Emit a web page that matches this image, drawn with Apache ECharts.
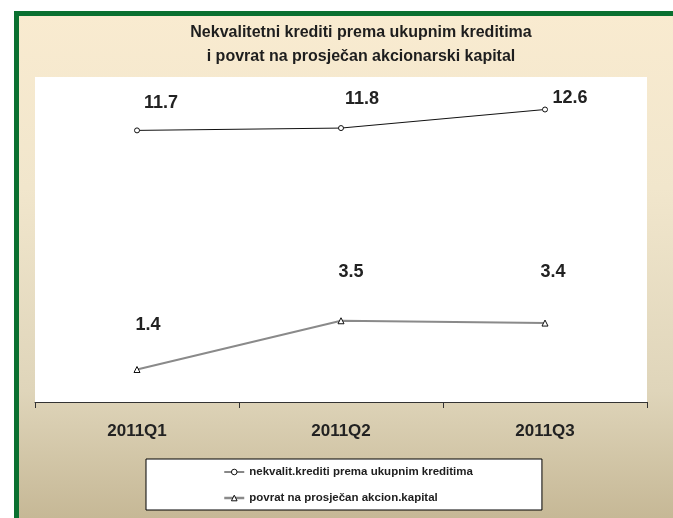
<!DOCTYPE html>
<html>
<head>
<meta charset="utf-8">
<script src="https://cdn.jsdelivr.net/npm/echarts@6/dist/echarts.min.js"></script>
<style>
  html, body { margin: 0; padding: 0; }
  #main { width: 673px; height: 518px; }
</style>
</head>
<body>
<div id="main"></div>
<script>
var categories = ["2011Q1", "2011Q2", "2011Q3"];
var seriesNames = ["nekvalit.krediti prema ukupnim kreditima", "povrat na prosječan akcion.kapital"];
var npl = [11.7, 11.8, 12.6];
var roe = [1.4, 3.5, 3.4];

// label offsets (px) so the numbers sit where the original puts them
var nplLabelOffset = [[24, -27], [21, -29], [25, -11]];
var roeLabelOffset = [[11, -44], [10, -49], [8, -51]];

var font = "'Liberation Sans', Arial, sans-serif";

function withOffsets(values, offsets) {
  return values.map(function (v, i) {
    return { value: v, label: { offset: offsets[i] } };
  });
}

var myChart = echarts.init(document.getElementById("main"));

myChart.setOption({
  animation: false,
  textStyle: { fontFamily: font },
  graphic: [
    {
      type: "rect", z: -10, silent: true,
      shape: { x: 0, y: 11, width: 673, height: 507 },
      style: {
        fill: new echarts.graphic.LinearGradient(0, 0, 0, 1, [
          { offset: 0, color: "#f9ebd0" },
          { offset: 0.35, color: "#f1e6cc" },
          { offset: 0.75, color: "#dfd5ba" },
          { offset: 1, color: "#c6b896" }
        ])
      }
    },
    { type: "rect", z: 10, silent: true, shape: { x: 0, y: 0, width: 673, height: 11 }, style: { fill: "#ffffff" } },
    { type: "rect", z: 10, silent: true, shape: { x: 0, y: 0, width: 14, height: 518 }, style: { fill: "#ffffff" } },
    { type: "rect", z: 11, silent: true, shape: { x: 14, y: 11, width: 659, height: 5 }, style: { fill: "#0a7030" } },
    { type: "rect", z: 11, silent: true, shape: { x: 14, y: 11, width: 5, height: 507 }, style: { fill: "#0a7030" } }
  ],
  title: {
    text: "Nekvalitetni krediti prema ukupnim kreditima\ni povrat na prosječan akcionarski kapital",
    left: 356,
    textAlign: "center",
    top: 16,
    textStyle: {
      fontFamily: font,
      fontSize: 16,
      fontWeight: "bold",
      color: "#1e1e1e",
      lineHeight: 24
    }
  },
  legend: {
    orient: "vertical",
    left: 146,
    top: 459,
    align: "left",
    padding: [7, 69, 6, 77],
    itemGap: 14,
    itemWidth: 20,
    itemHeight: 7,
    backgroundColor: "#ffffff",
    borderColor: "#000000",
    borderWidth: 1,
    borderRadius: 0,
    textStyle: {
      fontFamily: font,
      fontSize: 11.5,
      fontWeight: "bold",
      color: "#1e1e1e"
    },
    data: [
      {
        name: seriesNames[0],
        lineStyle: { color: "#111111", width: 1 },
        itemStyle: { color: "#ffffff", borderColor: "#111111", borderWidth: 1 }
      },
      {
        name: seriesNames[1],
        lineStyle: { color: "#8a8a8a", width: 2.5 },
        itemStyle: { color: "#ffffff", borderColor: "#111111", borderWidth: 1 }
      }
    ]
  },
  grid: {
    left: 35,
    right: 26,
    top: 77,
    bottom: 116,
    show: true,
    backgroundColor: "#ffffff",
    borderWidth: 0
  },
  xAxis: {
    type: "category",
    data: categories,
    boundaryGap: true,
    axisLine: { lineStyle: { color: "#333333", width: 1 } },
    axisTick: { show: true, length: 6, interval: 0, lineStyle: { color: "#333333" } },
    axisLabel: {
      margin: 21,
      fontFamily: font,
      fontSize: 17,
      fontWeight: "bold",
      color: "#222222"
    },
    splitLine: { show: false }
  },
  yAxis: {
    type: "value",
    min: 0,
    max: 14,
    show: false,
    splitLine: { show: false }
  },
  series: [
    {
      name: seriesNames[0],
      type: "line",
      data: withOffsets(npl, nplLabelOffset),
      symbol: "circle",
      symbolSize: 5,
      lineStyle: { color: "#111111", width: 1 },
      itemStyle: { color: "#ffffff", borderColor: "#111111", borderWidth: 1 },
      label: {
        show: true,
        position: "inside",
        fontFamily: font,
        fontSize: 18,
        fontWeight: "bold",
        color: "#222222",
        formatter: function (p) { return p.value.toFixed(1); }
      }
    },
    {
      name: seriesNames[1],
      type: "line",
      data: withOffsets(roe, roeLabelOffset),
      symbol: "triangle",
      symbolSize: 6,
      lineStyle: { color: "#8a8a8a", width: 2 },
      itemStyle: { color: "#ffffff", borderColor: "#111111", borderWidth: 1 },
      label: {
        show: true,
        position: "inside",
        fontFamily: font,
        fontSize: 18,
        fontWeight: "bold",
        color: "#222222",
        formatter: function (p) { return p.value.toFixed(1); }
      }
    }
  ]
});
</script>
</body>
</html>
